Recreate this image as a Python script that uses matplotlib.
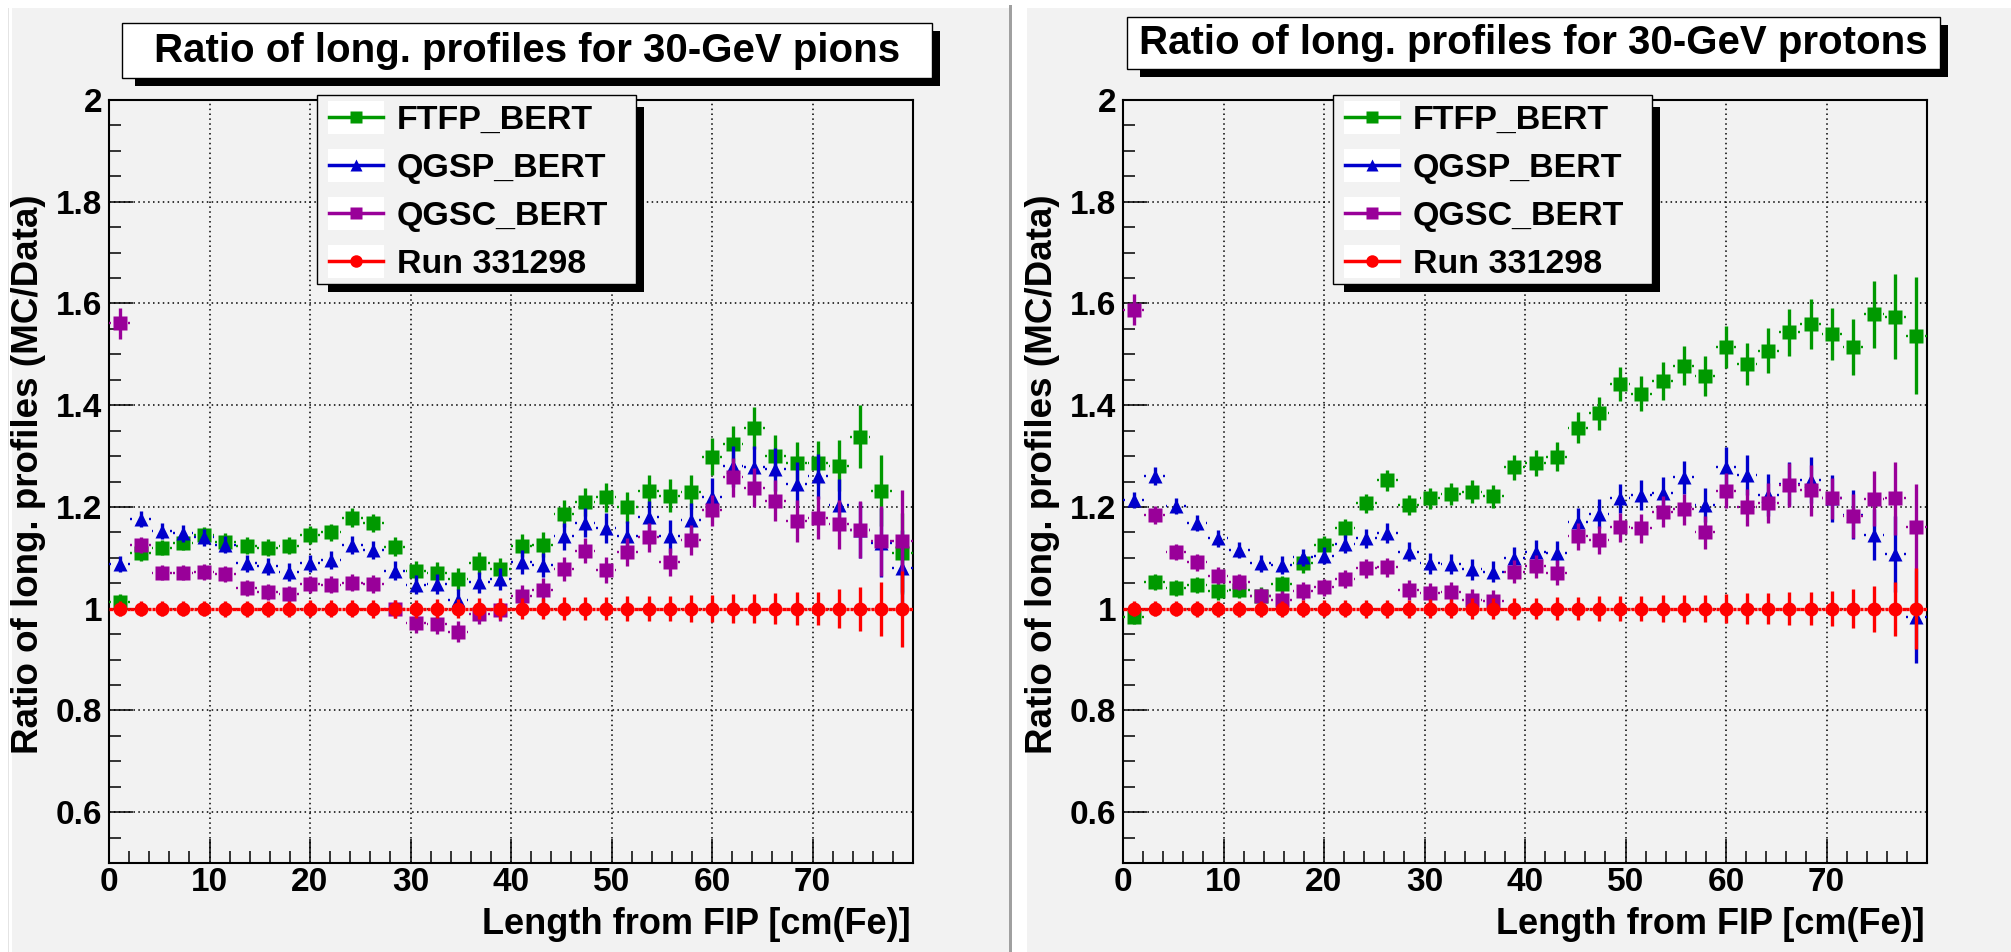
import numpy as np
import matplotlib
matplotlib.use("Agg")
import matplotlib.pyplot as plt
from matplotlib.patches import Rectangle
from matplotlib.lines import Line2D
from matplotlib.ticker import MultipleLocator, FixedLocator, FuncFormatter

plt.rcParams['font.family'] = ['Liberation Sans', 'DejaVu Sans']
plt.rcParams['font.weight'] = 'bold'

# ---------------------------------------------------------------- data
# 38 longitudinal bins covering 0-80 cm of iron
bin_edges = np.linspace(0.0, 80.0, 39)
x = 0.5 * (bin_edges[:-1] + bin_edges[1:])
half_bin = 0.5 * (bin_edges[1] - bin_edges[0])

series_names = ["FTFP_BERT", "QGSP_BERT", "QGSC_BERT", "Run 331298"]

# 30-GeV pions
ftfp_pi = [1.014, 1.109, 1.120, 1.130, 1.145, 1.132, 1.124, 1.120, 1.124, 1.145,
           1.150, 1.179, 1.168, 1.122, 1.074, 1.071, 1.058, 1.090, 1.078, 1.124,
           1.126, 1.187, 1.210, 1.219, 1.199, 1.231, 1.222, 1.229, 1.299, 1.324,
           1.355, 1.300, 1.287, 1.286, 1.281, 1.338, 1.232, 1.109]
ftfp_pi_err = [0.014, 0.016, 0.015, 0.015, 0.016, 0.016, 0.016, 0.016, 0.017, 0.017,
               0.017, 0.018, 0.018, 0.019, 0.019, 0.020, 0.021, 0.022, 0.022, 0.023,
               0.025, 0.027, 0.028, 0.029, 0.030, 0.031, 0.032, 0.033, 0.037, 0.036,
               0.042, 0.041, 0.041, 0.043, 0.050, 0.062, 0.070, 0.080]
qgsp_pi = [1.088, 1.176, 1.153, 1.148, 1.140, 1.126, 1.089, 1.083, 1.072, 1.089,
           1.096, 1.125, 1.115, 1.075, 1.047, 1.048, 1.017, 1.052, 1.058, 1.092,
           1.086, 1.142, 1.169, 1.159, 1.142, 1.181, 1.142, 1.174, 1.220, 1.280,
           1.278, 1.274, 1.245, 1.260, 1.204, 1.155, 1.130, 1.079]
qgsp_pi_err = [0.015, 0.016, 0.016, 0.016, 0.016, 0.016, 0.016, 0.017, 0.017, 0.017,
               0.018, 0.018, 0.018, 0.019, 0.019, 0.020, 0.021, 0.021, 0.022, 0.023,
               0.024, 0.026, 0.028, 0.029, 0.030, 0.031, 0.032, 0.033, 0.036, 0.040,
               0.041, 0.042, 0.043, 0.045, 0.050, 0.055, 0.067, 0.075]
qgsc_pi = [1.561, 1.125, 1.071, 1.071, 1.072, 1.068, 1.041, 1.033, 1.028, 1.048,
           1.047, 1.051, 1.048, 1.000, 0.971, 0.969, 0.955, 0.989, 0.997, 1.024,
           1.037, 1.078, 1.114, 1.076, 1.111, 1.140, 1.092, 1.135, 1.193, 1.258,
           1.238, 1.212, 1.172, 1.179, 1.166, 1.155, 1.133, 1.133]
qgsc_pi_err = [0.030, 0.016, 0.015, 0.015, 0.015, 0.016, 0.016, 0.016, 0.016, 0.017,
               0.017, 0.017, 0.018, 0.018, 0.019, 0.019, 0.020, 0.020, 0.021, 0.022,
               0.023, 0.024, 0.025, 0.026, 0.027, 0.028, 0.028, 0.029, 0.030, 0.038,
               0.039, 0.040, 0.041, 0.042, 0.048, 0.056, 0.069, 0.100]
data_pi = [1.0, 1.0, 1.0, 1.0, 1.0, 1.0, 1.0, 1.0, 1.0, 1.0,
           1.0, 1.0, 1.0, 1.0, 1.0, 1.0, 1.0, 1.0, 1.0, 1.0,
           1.0, 1.0, 1.0, 1.0, 1.0, 1.0, 1.0, 1.0, 1.0, 1.0,
           1.0, 1.0, 1.0, 1.0, 1.0, 1.0, 1.0, 1.0]
data_pi_err = [0.015, 0.015, 0.015, 0.015, 0.015, 0.016, 0.016, 0.016, 0.016, 0.017,
               0.017, 0.017, 0.018, 0.018, 0.018, 0.019, 0.019, 0.020, 0.020, 0.021,
               0.021, 0.022, 0.023, 0.023, 0.024, 0.025, 0.025, 0.026, 0.027, 0.028,
               0.029, 0.030, 0.032, 0.033, 0.038, 0.043, 0.053, 0.075]

# 30-GeV protons
ftfp_p = [0.984, 1.053, 1.041, 1.047, 1.034, 1.037, 1.025, 1.048, 1.089, 1.125,
          1.158, 1.207, 1.252, 1.204, 1.217, 1.225, 1.230, 1.221, 1.278, 1.286,
          1.299, 1.356, 1.384, 1.442, 1.423, 1.448, 1.478, 1.457, 1.514, 1.481,
          1.507, 1.543, 1.560, 1.540, 1.515, 1.579, 1.574, 1.537]
ftfp_p_err = [0.015, 0.016, 0.016, 0.016, 0.016, 0.016, 0.017, 0.017, 0.018, 0.018,
              0.018, 0.019, 0.020, 0.020, 0.021, 0.022, 0.022, 0.023, 0.025, 0.026,
              0.028, 0.030, 0.032, 0.034, 0.034, 0.037, 0.038, 0.039, 0.041, 0.042,
              0.044, 0.047, 0.049, 0.051, 0.055, 0.066, 0.083, 0.115]
qgsp_p = [1.214, 1.261, 1.202, 1.168, 1.138, 1.115, 1.089, 1.086, 1.101, 1.104,
          1.127, 1.138, 1.149, 1.112, 1.089, 1.088, 1.077, 1.073, 1.099, 1.112,
          1.109, 1.171, 1.187, 1.217, 1.223, 1.228, 1.258, 1.204, 1.278, 1.263,
          1.223, 1.246, 1.253, 1.217, 1.185, 1.145, 1.107, 0.984]
qgsp_p_err = [0.016, 0.017, 0.016, 0.016, 0.016, 0.016, 0.016, 0.017, 0.017, 0.017,
              0.018, 0.018, 0.019, 0.019, 0.020, 0.020, 0.021, 0.021, 0.022, 0.023,
              0.024, 0.026, 0.028, 0.029, 0.030, 0.031, 0.033, 0.034, 0.040, 0.040,
              0.041, 0.043, 0.045, 0.046, 0.048, 0.050, 0.075, 0.090]
qgsc_p = [1.588, 1.184, 1.111, 1.091, 1.065, 1.053, 1.024, 1.017, 1.035, 1.042,
          1.058, 1.079, 1.081, 1.037, 1.030, 1.032, 1.018, 1.016, 1.073, 1.083,
          1.071, 1.142, 1.135, 1.160, 1.158, 1.191, 1.195, 1.150, 1.232, 1.199,
          1.208, 1.243, 1.233, 1.217, 1.182, 1.216, 1.217, 1.160]
qgsc_p_err = [0.031, 0.017, 0.016, 0.016, 0.016, 0.016, 0.016, 0.017, 0.017, 0.017,
              0.018, 0.018, 0.019, 0.019, 0.020, 0.020, 0.021, 0.021, 0.022, 0.023,
              0.024, 0.026, 0.027, 0.028, 0.029, 0.030, 0.031, 0.032, 0.035, 0.037,
              0.039, 0.044, 0.050, 0.040, 0.044, 0.054, 0.072, 0.085]
data_p = [1.0, 1.0, 1.0, 1.0, 1.0, 1.0, 1.0, 1.0, 1.0, 1.0,
          1.0, 1.0, 1.0, 1.0, 1.0, 1.0, 1.0, 1.0, 1.0, 1.0,
          1.0, 1.0, 1.0, 1.0, 1.0, 1.0, 1.0, 1.0, 1.0, 1.0,
          1.0, 1.0, 1.0, 1.0, 1.0, 1.0, 1.0, 1.0]
data_p_err = [0.015, 0.015, 0.015, 0.016, 0.016, 0.016, 0.016, 0.016, 0.017, 0.017,
              0.017, 0.018, 0.018, 0.018, 0.019, 0.019, 0.020, 0.020, 0.021, 0.021,
              0.023, 0.023, 0.024, 0.024, 0.025, 0.026, 0.026, 0.027, 0.029, 0.030,
              0.031, 0.032, 0.033, 0.035, 0.038, 0.045, 0.053, 0.080]

x_ticks = [0, 10, 20, 30, 40, 50, 60, 70]
y_ticks = [0.6, 0.8, 1.0, 1.2, 1.4, 1.6, 1.8, 2.0]

titles = ["Ratio of long. profiles for 30-GeV pions",
          "Ratio of long. profiles for 30-GeV protons"]
xlabel = "Length from FIP [cm(Fe)]"
ylabel = "Ratio of long. profiles (MC/Data)"

# ---------------------------------------------------------------- style
GREEN = "#009900"
BLUE = "#0000cc"
PURPLE = "#990099"
RED = "#ff0000"
BG = "#f2f2f2"
colors = [GREEN, BLUE, PURPLE, RED]
markers = ["s", "^", "s", "o"]
msizes = [10.0, 10.5, 10.0, 10.0]

W, H, DPI = 2011, 952, 100
fig = plt.figure(figsize=(W / DPI, H / DPI), dpi=DPI)
fig.patch.set_facecolor("white")


def fx(px):
    return px / W


def fy(py):
    return 1.0 - py / H


def pbox(x0, y0, x1, y1, **kw):
    """Rectangle in figure pixel coordinates (origin at top-left)."""
    r = Rectangle((fx(x0), fy(y1)), (x1 - x0) / W, (y1 - y0) / H,
                  transform=fig.transFigure, **kw)
    fig.add_artist(r)
    return r


# pad backgrounds and the separator between the two pads
pbox(12, 8, 1009, H, facecolor=BG, edgecolor="none", zorder=-10)
pbox(8, 8, 9, H, facecolor="#e4e4e4", edgecolor="none", zorder=-10)
pbox(1009, 5, 1012, H, facecolor="#a0a0a0", edgecolor="none", zorder=-10)
pbox(1027, 8, W, H, facecolor=BG, edgecolor="none", zorder=-10)

fmt = FuncFormatter(lambda v, p: ("%.1f" % v).rstrip("0").rstrip("."))


def draw_panel(frame_x0, datasets, title, title_box, legend_x0):
    frame_x1, frame_y0, frame_y1 = frame_x0 + 804, 100, 863
    ax = fig.add_axes([fx(frame_x0), fy(frame_y1),
                       (frame_x1 - frame_x0) / W, (frame_y1 - frame_y0) / H])
    ax.set_facecolor(BG)
    ax.set_xlim(0, 80)
    ax.set_ylim(0.5, 2.0)
    ax.xaxis.set_major_locator(FixedLocator(x_ticks))
    ax.xaxis.set_minor_locator(MultipleLocator(2))
    ax.yaxis.set_major_locator(FixedLocator(y_ticks))
    ax.yaxis.set_minor_locator(MultipleLocator(0.05))
    ax.xaxis.set_major_formatter(FuncFormatter(lambda v, p: "%d" % v))
    ax.yaxis.set_major_formatter(fmt)
    ax.tick_params(which="both", direction="in", top=False, right=False,
                   width=1.1, color="black", labelsize=24)
    ax.tick_params(which="major", length=17)
    ax.tick_params(which="minor", length=8.5)
    ax.tick_params(axis="x", pad=3)
    ax.tick_params(axis="y", pad=5)
    for s in ax.spines.values():
        s.set_linewidth(1.5)
    ax.set_axisbelow(True)
    ax.grid(which="major", color="black", linestyle=(0, (1, 2.2)), linewidth=1.1)

    for k, (vals, errs) in enumerate(datasets):
        vals = np.asarray(vals)
        errs = np.asarray(errs)
        z = 3 + k
        c = colors[k]
        ax.vlines(x, vals - errs, vals + errs, colors=c, linewidth=2.4, zorder=z)
        lw_h = 2.4 if k == 3 else 1.7
        inner = 0.66 if k == 3 else 0.80
        ax.hlines(vals, x - 0.97 * half_bin, x - inner * half_bin, colors=c,
                  linewidth=lw_h, zorder=z)
        ax.hlines(vals, x + inner * half_bin, x + 0.97 * half_bin, colors=c,
                  linewidth=lw_h, zorder=z)
        ax.plot(x, vals, linestyle="none", marker=markers[k], ms=msizes[k],
                color=c, mec="none", zorder=z + 0.5)

    # axis titles
    fig.text(fx(frame_x1 - 2), fy(934), xlabel, ha="right", va="baseline",
             fontsize=26)
    fig.text(fx(frame_x0 - 80), fy(474), ylabel, ha="center", va="center",
             rotation=90, fontsize=26.5)

    # title box with shadow
    tx0, ty0, tx1, ty1 = title_box
    pbox(tx0 + 13, ty0 + 8, tx1 + 8, ty1 + 8, facecolor="black",
         edgecolor="none", zorder=5)
    pbox(tx0, ty0, tx1, ty1, facecolor="white", edgecolor="black",
         linewidth=1.0, zorder=6)
    fig.text(fx(0.5 * (tx0 + tx1)), fy(ty0 + 0.5 * (ty1 - ty0) + 11.5), title,
             ha="center", va="baseline", fontsize=29, zorder=7)

    # legend box with shadow
    lx0, ly0 = legend_x0, 95
    lx1, ly1 = lx0 + 319, 284
    pbox(lx0 + 11, ly0 + 12, lx1 + 8, ly1 + 8, facecolor="black",
         edgecolor="none", zorder=5)
    pbox(lx0, ly0, lx1, ly1, facecolor=BG, edgecolor="black",
         linewidth=1.0, zorder=6)
    for k, name in enumerate(series_names):
        cy = ly0 + 22 + 48 * k
        pbox(lx0 + 11, cy - 16.5, lx0 + 67, cy + 16.5, facecolor="white",
             edgecolor="none", zorder=7)
        fig.add_artist(Line2D([fx(lx0 + 12), fx(lx0 + 66)], [fy(cy), fy(cy)],
                              transform=fig.transFigure, color=colors[k],
                              linewidth=2.5, zorder=8))
        fig.add_artist(Line2D([fx(lx0 + 39)], [fy(cy)], transform=fig.transFigure,
                              linestyle="none", marker=markers[k],
                              ms=9.0, color=colors[k], mec="none",
                              zorder=9))
        fig.text(fx(lx0 + 80), fy(cy + 12), name, ha="left", va="baseline",
                 fontsize=24.5, zorder=9)
    return ax


draw_panel(109, [(ftfp_pi, ftfp_pi_err), (qgsp_pi, qgsp_pi_err),
                 (qgsc_pi, qgsc_pi_err), (data_pi, data_pi_err)],
           titles[0], (122, 23, 932, 78), 317)
draw_panel(1123, [(ftfp_p, ftfp_p_err), (qgsp_p, qgsp_p_err),
                  (qgsc_p, qgsc_p_err), (data_p, data_p_err)],
           titles[1], (1127, 17, 1940, 69), 1333)

fig.savefig("out.png", dpi=DPI, facecolor=fig.get_facecolor())
